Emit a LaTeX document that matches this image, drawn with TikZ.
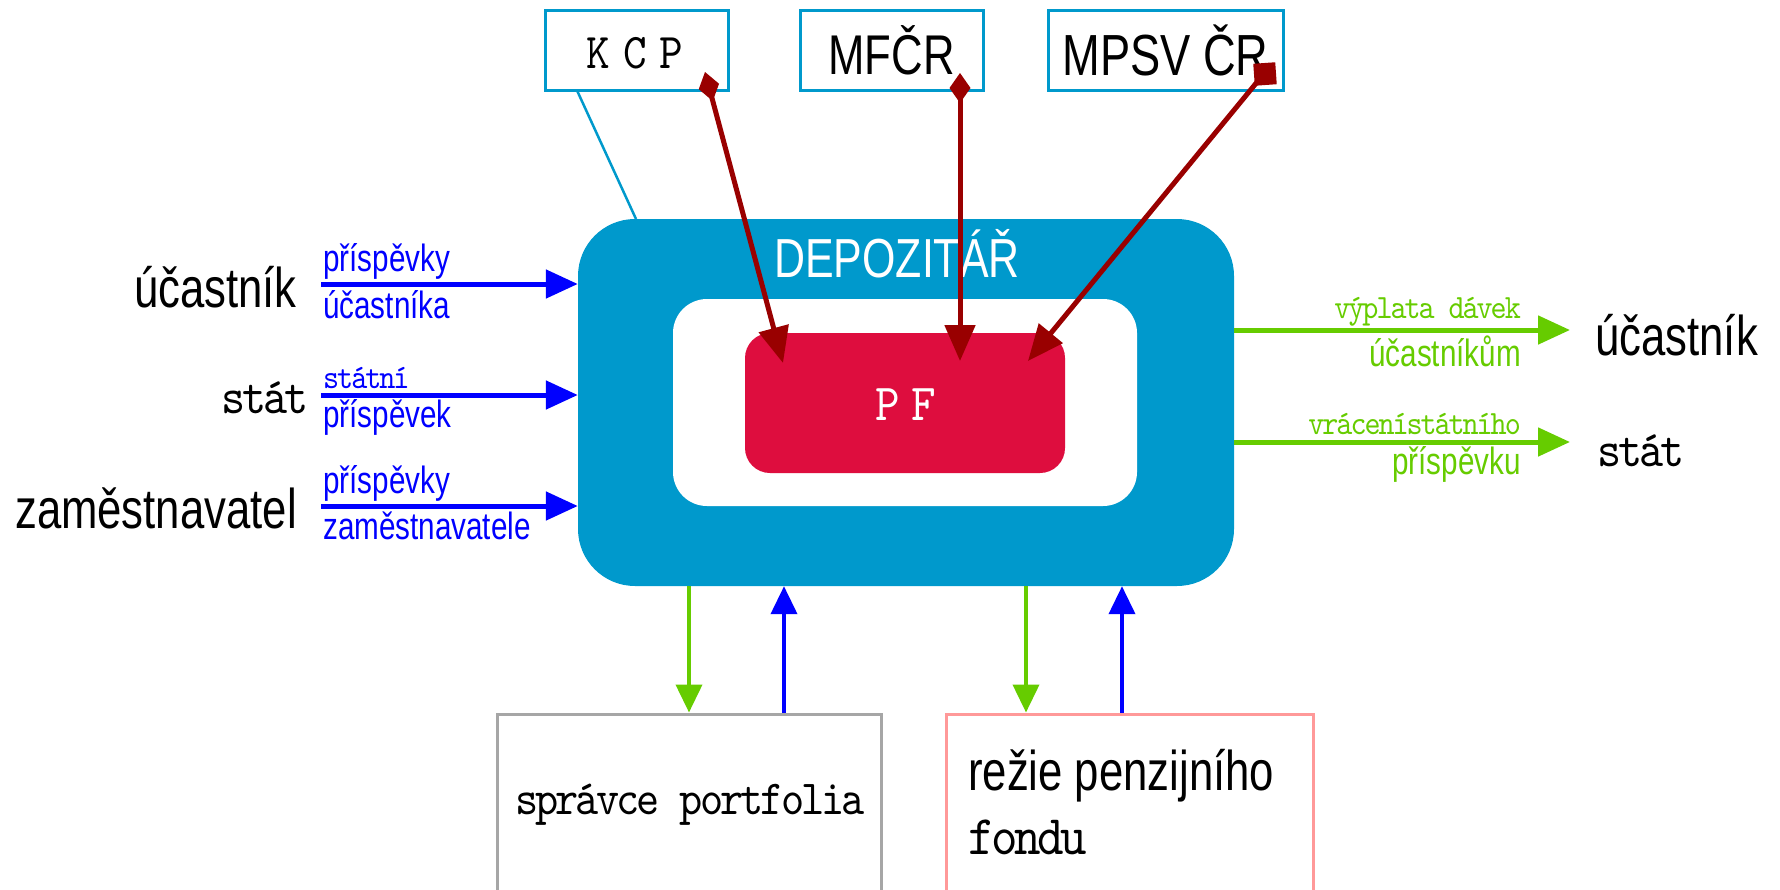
\documentclass[tikz,border=0pt]{standalone}
\usepackage{fontspec}
\setmainfont[FakeStretch=0.78]{Liberation Sans}
\newfontfamily\typ[LetterSpace=-6,FakeStretch=0.9]{lmmono10-regular.otf}
\usetikzlibrary{arrows.meta}
\usetikzlibrary{positioning}

\definecolor{depblue}{RGB}{0,153,204}
\definecolor{inblue}{RGB}{0,0,255}
\definecolor{outgreen}{RGB}{102,204,0}
\definecolor{ctrlred}{RGB}{153,0,0}
\definecolor{pfred}{RGB}{222,13,62}
\definecolor{sprgray}{RGB}{166,166,166}
\definecolor{rzpink}{RGB}{255,153,153}
\newcommand\setfs[1]{\fontsize{#1}{#1}\selectfont}

\begin{document}
\begin{tikzpicture}[x=1pt,y=-1pt,
	topbox/.style={draw=depblue, line width=3pt, minimum height=80pt, inner sep=0pt},
	lab/.style={inner sep=0pt},
	inarrow/.style={draw=inblue, line width=5pt, -{Triangle[length=32pt,width=28pt]}},
	outarrow/.style={draw=outgreen, line width=5pt, -{Triangle[length=32pt,width=28pt]}},
	downarrow/.style={draw=outgreen, line width=4pt, -{Triangle[length=28pt,width=26pt]}},
	uparrow/.style={draw=inblue, line width=4pt, -{Triangle[length=28pt,width=26pt]}},
	ctrl/.style={draw=ctrlred, line width=5pt, -{Triangle[length=36pt,width=30pt]}}]

	\useasboundingbox (0,0) rectangle (1780,889);
	\clip (0,0) rectangle (1780,889);

			\node[topbox, minimum width=183pt] (kcp) at (636.5,50) {};
			\node[lab] (kcptext) at (635,53) {\typ\setfs{50}K\kern13pt C\kern13pt P};
			\node[topbox, minimum width=183pt] (mf) at (891.5,50) {\setfs{56}MFČR};
			\node[topbox, minimum width=235pt] (mpsv) at (1165.5,50) {\setfs{58}MPSV ČR};

			\node[fill=depblue, rounded corners=57pt, minimum width=656pt, minimum height=367pt, inner sep=0pt] (dep) at (906,402.5) {};
			\node[lab, text=white] (deptext) at (897,254) {\setfs{55}DEPOZITÁŘ};
			\node[fill=white, rounded corners=34pt, minimum width=464pt, minimum height=207pt, inner sep=0pt] (inner) at (905,402.5) {};
			\node[fill=pfred, rounded corners=25pt, minimum width=320pt, minimum height=140pt, inner sep=0pt] (pf) at (905,403) {};
			\node[lab, text=white] (pftext) at (905.5,405) {\typ\setfs{52}P\kern11pt F};

			\draw[depblue, line width=2.5pt] ([xshift=34pt]kcp.south west) -- (636,219);

	% prispevky do fondu
			\coordinate (inA) at (321,284);
			\coordinate (inB) at (321,395);
			\coordinate (inC) at (321,506);
			\draw[inarrow] (inA) -- (inA -| dep.west);
			\draw[inarrow] (inB) -- (inB -| dep.west);
			\draw[inarrow] (inC) -- (inC -| dep.west);

			\node[lab, anchor=south west, text=inblue] (la1) at (323,280) {\setfs{38}příspěvky};
			\node[lab, anchor=north west, text=inblue] (la2) at (323,290) {\setfs{38}účastníka};
			\node[lab, anchor=south west, text=inblue] (lb1) at (323,389) {\typ\setfs{34}státní};
			\node[lab, anchor=north west, text=inblue] (lb2) at (323,399) {\setfs{38}příspěvek};
			\node[lab, anchor=south west, text=inblue] (lc1) at (323,502) {\setfs{38}příspěvky};
			\node[lab, anchor=north west, text=inblue] (lc2) at (323,512) {\setfs{38}zaměstnavatele};

			\node[lab, anchor=east] (ucL) at (297,287) {\setfs{56}účastník};
			\node[lab, anchor=east] (statL) at (309,398) {\typ\setfs{51}stát};
			\node[lab, anchor=east] (zamL) at (297,508) {\setfs{56}zaměstnavatel};

	% vyplaty
			\node[lab, anchor=west] (ucR) at (1595,335) {\setfs{56}účastník};
			\node[lab, anchor=west] (statR) at (1597,451) {\typ\setfs{51}stát};
			\draw[outarrow] (ucR.west -| dep.east) ++(0,-5) coordinate (outA) -- (1570,330);
			\draw[outarrow] (statR.west -| dep.east) ++(0,-9) coordinate (outB) -- (1570,442);

			\node[lab, anchor=south east, text=outgreen] (ra1) at (1521,326) {\typ\setfs{34}výplata dávek};
			\node[lab, anchor=north east, text=outgreen] (ra2) at (1521,336) {\setfs{38}účastníkům};
			\node[lab, anchor=south east, text=outgreen] (rb1) at (1521,435) {\typ\setfs{34}vrácenístátního};
			\node[lab, anchor=north east, text=outgreen] (rb2) at (1521,446) {\setfs{38}příspěvku};

	% dohled
			\coordinate (kcpS) at (705,72);
			\coordinate (mfS) at (960,73);
			\coordinate (mpsvS) at (1262,76);
			\draw[ctrl, {Diamond[length=30pt,width=21pt]}-{Triangle[length=36pt,width=30pt]}] (kcpS) -- (783,363);
			\draw[ctrl, {Diamond[length=30pt,width=21pt]}-{Triangle[length=36pt,width=30pt]}] (mfS) -- (mfS |- 361,361);
			\draw[ctrl] (mpsvS) -- (1028,361);
			\node[fill=ctrlred, minimum size=22pt, inner sep=0pt, rotate=4] (mpsvsq) at (1265,74) {};

	% spodni boxy
			\node[draw=sprgray, line width=3pt, minimum width=384pt, minimum height=191pt, inner sep=0pt] (spr) at (689,809.5) {};
			\node[lab] (sprtext) at (690,805) {\typ\setfs{49}správce portfolia};
			\node[draw=rzpink, line width=3pt, minimum width=367pt, minimum height=191pt, inner sep=0pt] (rz) at (1129.5,809.5) {};
			\node[lab, anchor=west] (rztext) at (968,776) {\setfs{56}režie penzijního};
			\node[lab, anchor=west] (fondtext) at (968,837) {\typ\setfs{56}fondu};

			\draw[downarrow] (spr.north |- dep.south) -- (spr.north);
			\draw[uparrow] ([xshift=95pt]spr.north) -- ([xshift=95pt]spr.north |- dep.south);
			\draw[downarrow] ([xshift=-103.5pt]rz.north |- dep.south) -- ([xshift=-103.5pt]rz.north);
			\draw[uparrow] ([xshift=-7.5pt]rz.north) -- ([xshift=-7.5pt]rz.north |- dep.south);

\end{tikzpicture}
\end{document}
